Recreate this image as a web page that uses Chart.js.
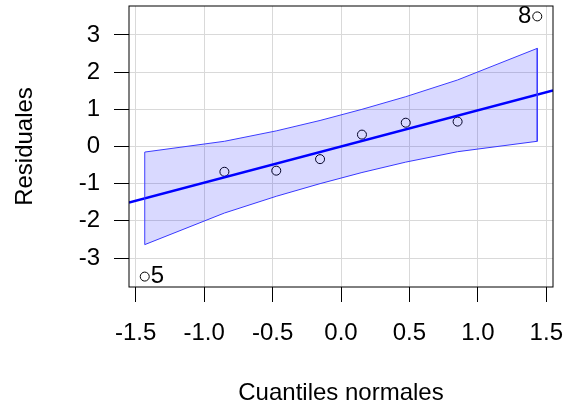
<!DOCTYPE html>
<html lang="es">
<head>
<meta charset="UTF-8">
<title>qqPlot residuales</title>
<script src="https://cdn.jsdelivr.net/npm/chart.js"></script>
<style>
  html, body { margin: 0; padding: 0; background: #fff; }
  #wrap { width: 565px; height: 408px; }
</style>
</head>
<body>
<div id="wrap"><canvas id="qq"></canvas></div>
<script>
// cuantiles normales y residuales
const quantiles = [-1.434, -0.852, -0.473, -0.153, 0.153, 0.473, 0.852, 1.434];
const residuals = [-3.50, -0.68, -0.65, -0.34, 0.32, 0.64, 0.67, 3.50];
// banda de confianza
const bandUpper = [-0.15, 0.14, 0.42, 0.70, 1.00, 1.34, 1.79, 2.64];
const bandLower = [-2.64, -1.79, -1.34, -1.00, -0.70, -0.42, -0.14, 0.14];
// linea de referencia
const refX = [-1.549, 1.549];
const refY = [-1.51, 1.51];
// etiquetas de puntos extremos
const outlierIdx = [0, 7];
const outlierText = ['5', '8'];
const xTicks = [-1.5, -1.0, -0.5, 0.0, 0.5, 1.0, 1.5];
const yTicks = [-3, -2, -1, 0, 1, 2, 3];

const FONT = "'Liberation Sans', Arial, sans-serif";

// contorno de la banda: lado izquierdo, borde superior y lado derecho
const n = quantiles.length;
const outline = [{x: quantiles[0], y: bandLower[0]}]
  .concat(quantiles.map((q, i) => ({x: q, y: bandUpper[i]})))
  .concat([{x: quantiles[n - 1], y: bandLower[n - 1]}]);

const boxPlugin = {
  id: 'box',
  afterDraw(chart) {
    const {ctx, chartArea: a} = chart;
    ctx.save();
    ctx.strokeStyle = '#000';
    ctx.lineWidth = 1;
    ctx.strokeRect(a.left, a.top, a.right - a.left, a.bottom - a.top);
    // etiquetas de outliers
    const meta = chart.getDatasetMeta(3);
    ctx.fillStyle = '#000';
    ctx.font = '24px ' + FONT;
    ctx.textBaseline = 'middle';
    outlierIdx.forEach((idx, k) => {
      const p = meta.data[idx];
      if (idx < n / 2) {
        ctx.textAlign = 'left';
        ctx.fillText(outlierText[k], p.x + 6, p.y);
      } else {
        ctx.textAlign = 'right';
        ctx.fillText(outlierText[k], p.x - 6, p.y);
      }
    });
    ctx.restore();
  }
};

new Chart(document.getElementById('qq'), {
  type: 'scatter',
  data: {
    datasets: [
      {
        data: outline,
        showLine: true,
        borderColor: '#3c3cff',
        borderWidth: 1,
        backgroundColor: 'rgba(0,0,255,0.15)',
        fill: '+1',
        pointRadius: 0,
        tension: 0
      },
      {
        data: quantiles.map((q, i) => ({x: q, y: bandLower[i]})),
        showLine: true,
        borderColor: '#3c3cff',
        borderWidth: 1,
        fill: false,
        pointRadius: 0
      },
      {
        data: refX.map((x, i) => ({x: x, y: refY[i]})),
        showLine: true,
        borderColor: '#0000ff',
        borderWidth: 2.5,
        fill: false,
        pointRadius: 0
      },
      {
        data: quantiles.map((q, i) => ({x: q, y: residuals[i]})),
        showLine: false,
        pointRadius: 4.5,
        pointBorderColor: '#000',
        pointBorderWidth: 1,
        pointBackgroundColor: 'rgba(0,0,0,0)'
      }
    ]
  },
  options: {
    responsive: true,
    maintainAspectRatio: false,
    animation: false,
    layout: { padding: { top: 6, right: 12, bottom: 0, left: 0 } },
    plugins: { legend: { display: false }, tooltip: { enabled: false } },
    scales: {
      x: {
        type: 'linear',
        min: -1.549,
        max: 1.549,
        afterBuildTicks: s => { s.ticks = xTicks.map(v => ({value: v})); },
        afterFit: s => { s.height = 121; s.paddingLeft = 0; s.paddingRight = 0; },
        ticks: {
          color: '#000',
          font: { family: FONT, size: 24 },
          padding: 17,
          maxRotation: 0,
          autoSkip: false,
          callback: v => v.toFixed(1)
        },
        grid: { color: '#d9d9d9', tickColor: '#000', tickLength: 15, lineWidth: 1 },
        border: { display: false },
        title: {
          display: true,
          text: 'Cuantiles normales',
          color: '#000',
          font: { family: FONT, size: 24 },
          padding: { top: 0, bottom: 0 }
        }
      },
      y: {
        type: 'linear',
        min: -3.78,
        max: 3.78,
        afterBuildTicks: s => { s.ticks = yTicks.map(v => ({value: v})); },
        afterFit: s => { s.width = 129; s.paddingTop = 0; s.paddingBottom = 0; },
        ticks: {
          color: '#000',
          font: { family: FONT, size: 24 },
          padding: 14,
          autoSkip: false,
          callback: v => String(v)
        },
        grid: { color: '#d9d9d9', tickColor: '#000', tickLength: 15, lineWidth: 1 },
        border: { display: false },
        title: {
          display: true,
          text: 'Residuales',
          color: '#000',
          font: { family: FONT, size: 24 },
          padding: { top: 11, bottom: 0 }
        }
      }
    }
  },
  plugins: [boxPlugin]
});
</script>
</body>
</html>
